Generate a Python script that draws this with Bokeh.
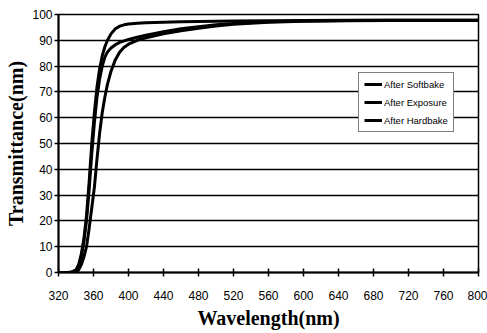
from bokeh.plotting import figure
from bokeh.models import Range1d, FixedTicker, Legend, LegendItem
from bokeh.embed import file_html
from bokeh.resources import INLINE

wavelength = [320, 330, 335, 340, 343, 346, 349, 352, 355, 358, 361, 364, 367, 370,
              373, 376, 380, 385, 390, 395, 400, 410, 420, 440, 460, 480, 500, 520,
              560, 600, 650, 700, 750, 800]
softbake = [0, 0, 0.2, 1, 3, 7, 13, 22, 35, 50, 62, 72, 79, 84,
            87.5, 90, 92.5, 94.5, 95.5, 96, 96.3, 96.6, 96.8, 97, 97.2, 97.3, 97.4, 97.5,
            97.6, 97.7, 97.8, 97.8, 97.8, 97.8]
exposure = [0, 0, 0.1, 0.8, 2.5, 6, 12, 20, 32, 46, 58, 68, 75, 80,
            83.5, 85.5, 87, 88.3, 89.2, 89.8, 90.3, 91.2, 92, 93.3, 94.5, 95.3, 96, 96.5,
            97.2, 97.5, 97.7, 97.8, 97.8, 97.8]
hardbake = [0, 0, 0, 0.3, 1, 3, 6, 10, 17, 25, 33, 44, 54, 62,
            68, 73, 78, 82.5, 85.5, 87.3, 88.5, 90, 91, 92.5, 93.7, 94.7, 95.5, 96.2,
            97, 97.4, 97.6, 97.7, 97.7, 97.7]
series_names = ["After Softbake", "After Exposure", "After Hardbake"]
x_ticks = list(range(320, 801, 40))
y_ticks = list(range(0, 101, 10))

p = figure(width=487, height=333, output_backend="svg", toolbar_location=None,
           x_range=Range1d(320, 800), y_range=Range1d(0, 100),
           min_border_left=58, min_border_right=9, min_border_top=14, min_border_bottom=61)

p.background_fill_color = "white"
p.border_fill_color = "white"
p.outline_line_color = "black"
p.outline_line_width = 1.5

p.xgrid.visible = False
p.ygrid.ticker = FixedTicker(ticks=y_ticks)
p.ygrid.grid_line_color = "black"
p.ygrid.grid_line_width = 1.5

p.xaxis.ticker = FixedTicker(ticks=x_ticks)
p.yaxis.ticker = FixedTicker(ticks=y_ticks)
for ax in (p.xaxis, p.yaxis):
    ax.axis_line_color = "black"
    ax.axis_line_width = 2
    ax.major_tick_line_color = "black"
    ax.major_tick_line_width = 1.5
    ax.minor_tick_line_color = None
    ax.major_label_text_font = "Liberation Sans"
    ax.major_label_text_font_size = "12px"
    ax.major_label_text_color = "black"
    ax.axis_label_text_font = "Liberation Serif"
    ax.axis_label_text_font_style = "bold"
    ax.axis_label_text_font_size = "20px"
    ax.axis_label_text_color = "black"

p.xaxis.major_tick_in = 4
p.xaxis.major_tick_out = 4
p.xaxis.major_label_standoff = 14
p.xaxis.axis_label = "Wavelength(nm)"
p.xaxis.axis_label_standoff = 4

p.yaxis.major_tick_in = 0
p.yaxis.major_tick_out = 4
p.yaxis.major_label_standoff = 2
p.yaxis.axis_label = "Transmittance(nm)"
p.yaxis.axis_label_standoff = 2

r1 = p.line(wavelength, softbake, line_color="black", line_width=3)
r2 = p.line(wavelength, exposure, line_color="black", line_width=3)
r3 = p.line(wavelength, hardbake, line_color="black", line_width=3)

legend = Legend(items=[LegendItem(label=series_names[0], renderers=[r1]),
                       LegendItem(label=series_names[1], renderers=[r2]),
                       LegendItem(label=series_names[2], renderers=[r3])],
                location=(300, 140), orientation="vertical")
legend.label_text_font = "Liberation Sans"
legend.label_text_font_size = "9.5px"
legend.label_text_color = "black"
legend.label_height = 12
legend.glyph_height = 12
legend.glyph_width = 18
legend.label_standoff = 2
legend.spacing = 6
legend.padding = 5
legend.margin = 0
legend.border_line_color = "black"
legend.border_line_width = 1.5
legend.background_fill_color = "white"
legend.background_fill_alpha = 1
p.add_layout(legend, "center")

open("out.html", "w").write(file_html(p, INLINE))
